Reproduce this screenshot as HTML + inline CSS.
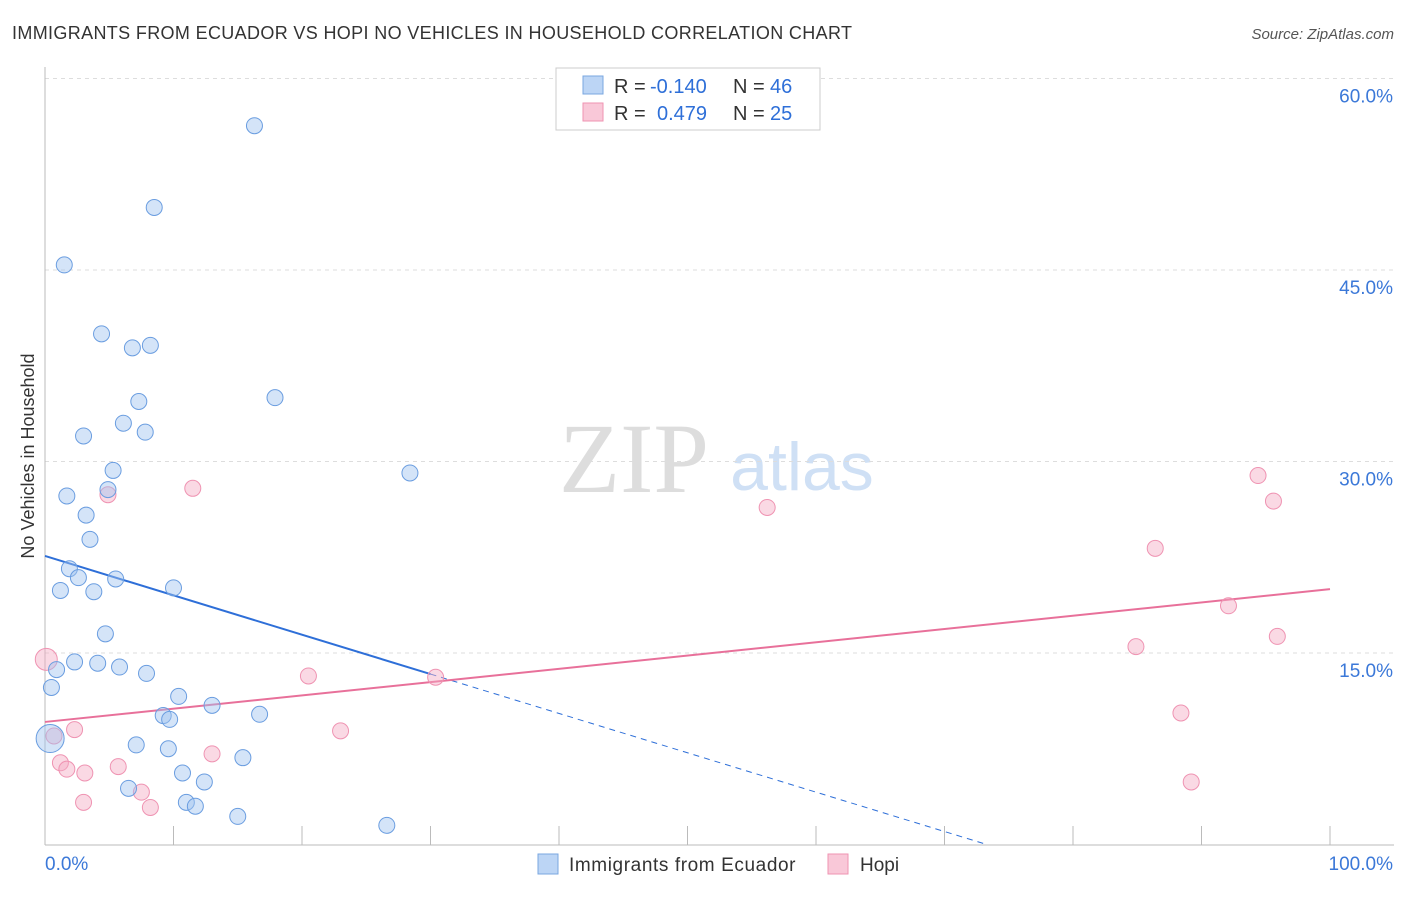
<!DOCTYPE html>
<html><head><meta charset="utf-8"><style>
body{margin:0;background:#fff;font-family:"Liberation Sans",sans-serif;}
</style></head><body>
<svg width="1406" height="892" font-family="Liberation Sans, sans-serif">
<text x="12" y="39" font-size="18" letter-spacing="0.35" fill="#333">IMMIGRANTS FROM ECUADOR VS HOPI NO VEHICLES IN HOUSEHOLD CORRELATION CHART</text>
<text x="1394" y="39" font-size="15" fill="#555" text-anchor="end" font-style="italic">Source: ZipAtlas.com</text>
<text x="634" y="492" font-size="100" fill="#ddd" text-anchor="middle" style="font-family:'Liberation Serif',serif">ZIP</text>
<text x="802" y="490" font-size="68" fill="#cfe0f5" text-anchor="middle">atlas</text>
<text x="34" y="456" font-size="18" fill="#333" text-anchor="middle" transform="rotate(-90 34 456)">No Vehicles in Household</text>
<g id="grid"></g><g id="trend"></g><g id="pts"></g>
<g>
<rect x="556" y="68" width="264" height="62" fill="#fff" stroke="#ccc"/>
<rect x="583" y="76" width="20" height="18" fill="#bcd5f5" stroke="#7aa7e0"/>
<text x="614" y="93" font-size="20" fill="#333">R =</text>
<text x="650" y="93" font-size="20" fill="#2e6fd8">-0.140</text>
<text x="733" y="93" font-size="20" fill="#333">N =</text>
<text x="770" y="93" font-size="20" fill="#2e6fd8">46</text>
<rect x="583" y="103" width="20" height="18" fill="#f9c8d8" stroke="#ef93b2"/>
<text x="614" y="120" font-size="20" fill="#333">R =</text>
<text x="657" y="120" font-size="20" fill="#2e6fd8">0.479</text>
<text x="733" y="120" font-size="20" fill="#333">N =</text>
<text x="770" y="120" font-size="20" fill="#2e6fd8">25</text>
</g>
<g>
<rect x="538" y="854" width="20" height="20" fill="#bcd5f5" stroke="#7aa7e0"/>
<text x="569" y="871" font-size="19" letter-spacing="0.6" fill="#333">Immigrants from Ecuador</text>
<rect x="828" y="854" width="20" height="20" fill="#f9c8d8" stroke="#ef93b2"/>
<text x="860" y="871" font-size="19" fill="#333">Hopi</text>
</g>
</svg>
<script>
const blueX=[16.3,8.5,1.5,4.4,6.8,8.2,7.3,17.9,6.1,7.8,3.0,28.4,5.3,4.9,1.7,3.2,3.5,1.9,2.6,5.5,1.2,3.8,10.0,4.7,2.3,4.1,5.8,7.9,0.9,0.5,10.4,13.0,9.2,9.7,16.7,0.4,7.1,9.6,15.4,10.7,12.4,6.5,11.0,11.7,15.0,26.6];
const blueY=[56.3,49.9,45.4,40.0,38.9,39.1,34.7,35.0,33.0,32.3,32.0,29.1,29.3,27.8,27.3,25.8,23.9,21.6,20.9,20.8,19.9,19.8,20.1,16.5,14.3,14.2,13.9,13.4,13.7,12.3,11.6,10.9,10.1,9.8,10.2,8.3,7.8,7.5,6.8,5.6,4.9,4.4,3.3,3.0,2.2,1.5];
const pinkX=[0.1,4.9,11.5,56.2,94.4,95.6,86.4,92.1,95.9,84.9,20.5,30.4,88.4,23.0,2.3,0.7,1.2,1.7,3.1,5.7,13.0,7.5,3.0,8.2,89.2];
const pinkY=[14.5,27.4,27.9,26.4,28.9,26.9,23.2,18.7,16.3,15.5,13.2,13.1,10.3,8.9,9.0,8.5,6.4,5.9,5.6,6.1,7.1,4.1,3.3,2.9,4.9];
const yTicks=[15,30,45,60];
const xTickLabels=["0.0%","100.0%"];
const blueTrend=[22.6,13.35];
const pinkTrend=[9.6,20.0];
const NS="http://www.w3.org/2000/svg";
const X=v=>45+v*12.85, Y=v=>844.5-v*191.5/15;
function mk(tag,attrs,parent){const e=document.createElementNS(NS,tag);for(const k in attrs)e.setAttribute(k,attrs[k]);document.getElementById(parent).appendChild(e);return e;}
let e;
yTicks.forEach(t=>{
 e=mk('line',{x1:45,x2:1394,y1:Y(t),y2:Y(t),stroke:'#ddd','stroke-dasharray':'4,4'},'grid');
 
 
 e=mk('text',{x:1393,y:Y(t)+24,'font-size':19,fill:'#3b78d8','text-anchor':'end'},'grid');e.textContent=t.toFixed(1)+'%';
 
 
});
e=mk('line',{x1:45,x2:45,y1:67,y2:845,stroke:'#bbb'},'grid');


e=mk('line',{x1:45,x2:1394,y1:845,y2:845,stroke:'#bbb'},'grid');


for(let i=0;i<=10;i++){e=mk('line',{x1:X(i*10),x2:X(i*10),y1:826,y2:845,stroke:'#bbb'},'grid');
 
 }
e=mk('text',{x:45,y:870,'font-size':19,fill:'#3b78d8'},'grid');e.textContent=xTickLabels[0];


e=mk('text',{x:1393,y:870,'font-size':19,fill:'#3b78d8','text-anchor':'end'},'grid');e.textContent=xTickLabels[1];


const slope=(blueTrend[1]-blueTrend[0])/30, xz=-blueTrend[0]/slope;
e=mk('line',{x1:X(0),y1:Y(blueTrend[0]),x2:X(30),y2:Y(blueTrend[1]),stroke:'#2e6fd8','stroke-width':2},'trend');


e=mk('line',{x1:X(30),y1:Y(blueTrend[1]),x2:X(xz),y2:Y(0),stroke:'#2e6fd8','stroke-width':1,'stroke-dasharray':'6,5'},'trend');


e=mk('line',{x1:X(0),y1:Y(pinkTrend[0]),x2:X(100),y2:Y(pinkTrend[1]),stroke:'#e8709a','stroke-width':2},'trend');


pinkX.forEach((v,i)=>{e=mk('circle',{cx:X(v),cy:Y(pinkY[i]),r:i==0?11:8,fill:'rgba(245,170,195,0.45)',stroke:'#ef93b2','stroke-width':1},'pts');
 
 });
blueX.forEach((v,i)=>{e=mk('circle',{cx:X(v),cy:Y(blueY[i]),r:i==35?14:8,fill:'rgba(160,195,240,0.45)',stroke:'#6a9de0','stroke-width':1},'pts');
 
 });
</script>
</body></html>
